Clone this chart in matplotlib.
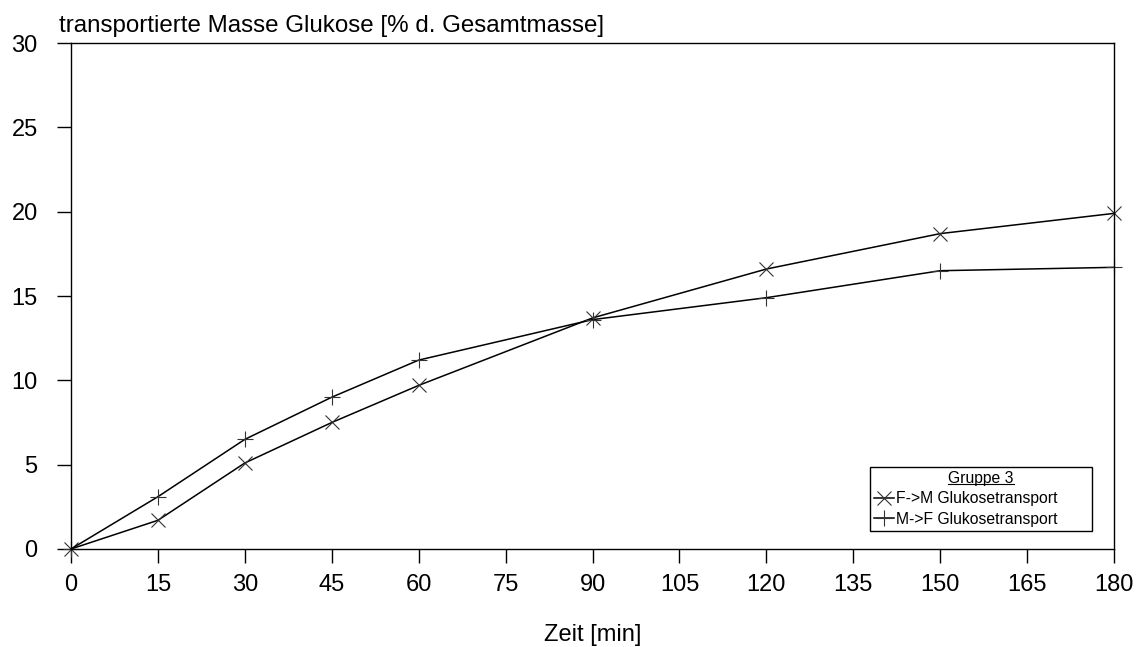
import matplotlib.pyplot as plt
from matplotlib.lines import Line2D

plt.rcParams['font.family'] = ['Liberation Sans', 'DejaVu Sans']

# Zeitpunkte [min]
zeit = [0, 15, 30, 45, 60, 90, 120, 150, 180]
# transportierte Masse Glukose [% d. Gesamtmasse]
f_nach_m = [0, 1.7, 5.1, 7.5, 9.7, 13.7, 16.6, 18.7, 19.9]
m_nach_f = [0, 3.1, 6.5, 9.0, 11.2, 13.6, 14.9, 16.5, 16.7]

x_ticks = list(range(0, 181, 15))
y_ticks = [0, 5, 10, 15, 20, 25, 30]

fig = plt.figure(figsize=(11.38, 6.47), dpi=100)
ax = fig.add_axes([0.0624, 0.1515, 0.9166, 0.782])

ax.plot(zeit, f_nach_m, '-', color='black', linewidth=1.1, marker='x',
        markersize=10, markeredgewidth=0.8, markeredgecolor='#333333',
        label='F->M Glukosetransport', clip_on=False)
ax.plot(zeit, m_nach_f, '-', color='black', linewidth=1.1, marker='+',
        markersize=12, markeredgewidth=0.8, markeredgecolor='#333333',
        label='M->F Glukosetransport', clip_on=False)

ax.set_xlim(0, 180)
ax.set_ylim(0, 30)
ax.set_xticks(x_ticks)
ax.set_yticks(y_ticks)
ax.tick_params(axis='both', direction='out', length=10, width=1, labelsize=17)
ax.tick_params(axis='x', pad=8)
ax.tick_params(axis='y', pad=14)
for s in ax.spines.values():
    s.set_linewidth(1)

ax.set_xlabel('Zeit [min]', fontsize=17, labelpad=20)
fig.text(0.052, 0.9505, 'transportierte Masse Glukose [% d. Gesamtmasse]',
         fontsize=17.4, ha='left', va='baseline')

leg = ax.legend(loc='upper left', bbox_to_anchor=(0.766, 0.04, 0.213, 0.122),
                mode='expand', title='Gruppe 3', fontsize=11.3,
                title_fontsize=11.3, fancybox=False, shadow=False,
                framealpha=1, edgecolor='black', handlelength=1.3,
                handletextpad=0.1, borderpad=0.25, labelspacing=0.35,
                borderaxespad=0)
leg.get_frame().set_linewidth(1)

# Unterstreichung des Legendentitels
fig.canvas.draw()
bb = leg.get_title().get_window_extent().transformed(fig.transFigure.inverted())
fig.add_artist(Line2D([bb.x0, bb.x1], [bb.y0 + 0.003, bb.y0 + 0.003],
                      transform=fig.transFigure, color='black', linewidth=0.8))

fig.savefig('out.png', dpi=100)
